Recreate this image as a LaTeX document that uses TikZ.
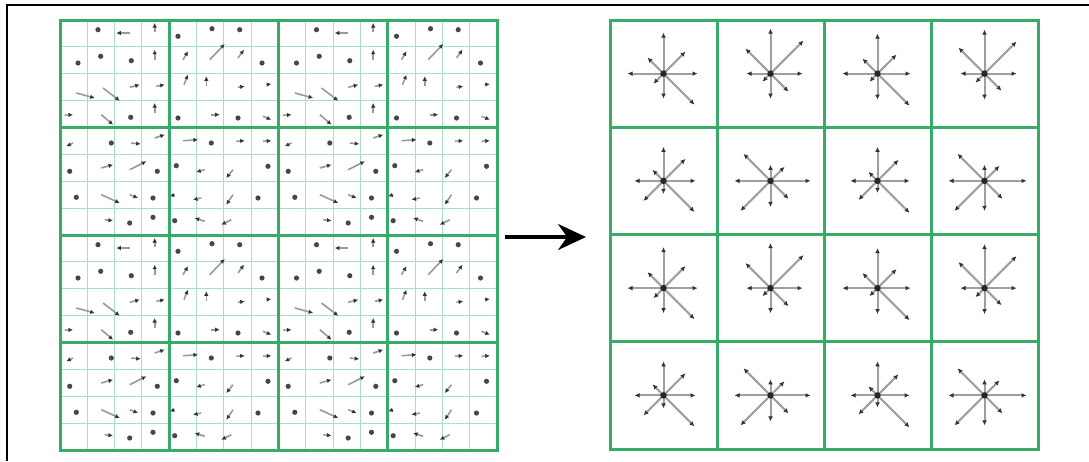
\documentclass[tikz,border=0pt]{standalone}
\usetikzlibrary{arrows.meta}
\definecolor{gridgreen}{RGB}{55,172,105}
\definecolor{finegreen}{RGB}{172,222,192}
\newcommand\ga[4]{\draw[grad] (#1,#2) -- (#3,#4);}
\newcommand\gd[2]{\fill[gdot] (#1,#2) circle (2.6);}
\newcommand\gradtile{%
\gd{38}{9.7}
\ga{69.7}{13}{56.3}{13}
\ga{94.7}{12}{94.7}{3}
\gd{18}{43}
\gd{40.7}{36.3}
\gd{71.3}{40.7}
\ga{94.7}{39.7}{94.7}{29.7}
\ga{16.3}{73}{34.7}{78}
\ga{43}{68}{59.7}{80.7}
\ga{69.7}{67.3}{79.7}{64.7}
\ga{96.3}{66.3}{104.7}{64.7}
\ga{94.7}{93}{94.7}{83}
\ga{4.7}{95.3}{13}{94.7}
\ga{41.3}{94.7}{53}{104.7}
\gd{70.7}{97.3}
\gd{118}{16.3}
\gd{152}{8.7}
\gd{179.7}{9.7}
\ga{123}{39.7}{128}{31.3}
\ga{149.7}{39.7}{164.7}{24}
\ga{178}{38}{184}{29.7}
\gd{202}{43}
\ga{124}{64.7}{128}{54.7}
\ga{146.3}{66.3}{146.3}{56.3}
\ga{178}{67.3}{184.7}{66.3}
\ga{206.3}{64.7}{211.3}{64}
\gd{118}{98}
\ga{151.3}{94.7}{159.7}{94.7}
\gd{178}{98}
\ga{203}{96.3}{211.3}{99.7}
\ga{13}{123}{6.3}{126.3}
\gd{51.3}{123}
\ga{71.3}{123}{80.7}{124}
\ga{94.7}{118}{104.7}{114.7}
\gd{9.7}{151.3}
\ga{41.3}{148}{53}{144.7}
\ga{69.7}{149.7}{86.3}{141.3}
\gd{97.3}{151.3}
\gd{16.3}{177.3}
\ga{41.3}{174.7}{59.7}{183}
\ga{69.7}{174.7}{78}{178}
\gd{93}{178}
\ga{44.7}{199.7}{53}{200.7}
\gd{69.7}{203}
\gd{93}{197.3}
\ga{123}{120.7}{138}{119.7}
\gd{151.3}{123}
\ga{176.3}{121.3}{184.7}{120.7}
\ga{203}{121.3}{211.3}{120.7}
\gd{116.3}{145.7}
\ga{144.7}{149.7}{136.3}{152}
\ga{173}{149.7}{166.3}{158}
\gd{208}{146.3}
\ga{114.7}{174.7}{109.7}{176.3}
\ga{141.3}{178}{133}{179.7}
\ga{173}{174.7}{166.3}{184.7}
\gd{198}{178}
\gd{114.7}{200.7}
\ga{144.7}{201.3}{134.7}{198}
\ga{171.3}{199.7}{161.3}{204.7}
}
% #1 centre coordinate name; #2..#9 : N, NE(dx), E, SE(dx), S, SW(dx), W, NW(dx)
\newcommand\hdesc[9]{%
\draw[hist] (#1) -- ++(0,-#2);
\draw[hist] (#1) -- ++(#3,-#3);
\draw[hist] (#1) -- ++(#4,0);
\draw[hist] (#1) -- ++(#5,#5);
\draw[hist] (#1) -- ++(0,#6);
\draw[hist] (#1) -- ++(-#7,#7);
\draw[hist] (#1) -- ++(-#8,0);
\draw[hist] (#1) -- ++(-#9,-#9);
\fill[black!85] (#1) circle (3.2);
}
\begin{document}
\begin{tikzpicture}[x=1pt,y=-1pt,
  coarse/.style={draw=gridgreen,line width=3pt},
  fine/.style={draw=finegreen,line width=1pt},
  grad/.style={draw=gray!80,line width=1.6pt,-{Latex[length=4.5pt,width=4.5pt,color=black!80]}},
  gdot/.style={fill=black!72,draw=none},
  hist/.style={draw=gray!75,line width=2pt,-{Latex[length=5pt,width=4.8pt,color=black!80]}},
  frameline/.style={draw=black,line width=2.6pt},
  bigarrow/.style={draw=black,line width=3.2pt,-{Stealth[length=28pt,width=26pt]}}
]
\useasboundingbox (0,0) rectangle (1089,461);
\fill[white] (0,0) rectangle (1089,461);
% outer frame (top and left only)
\draw[frameline] (7,461) -- (7,5) -- (1089,5);

% ---- left: gradient samples ----
\foreach \i in {1,...,15} {
  \draw[fine] ({60+\i*437/16},20) -- ({60+\i*437/16},450);
  \draw[fine] (60,{20+\i*430/16}) -- (497,{20+\i*430/16});
}
\foreach \bx/\by in {60/20, 278.5/20, 60/235, 278.5/235} {
  \begin{scope}[shift={(\bx,\by)}]
    \gradtile
  \end{scope}
}
\foreach \i in {1,2,3} {
  \draw[coarse] ({60+\i*437/4},20) -- ({60+\i*437/4},450);
  \draw[coarse] (60,{20+\i*430/4}) -- (497,{20+\i*430/4});
}
\draw[coarse] (60,20) rectangle (497,450);

% ---- middle arrow ----
\coordinate (arrowtail) at (505,237);
\coordinate (arrowtip) at (586,237);
\draw[bigarrow] (arrowtail) -- (arrowtip);

% ---- right: descriptor ----
\foreach \i in {1,2,3} {
  \draw[coarse] ({610+\i*107},20) -- ({610+\i*107},449);
  \draw[coarse] (610,{20+\i*107.25}) -- (1038,{20+\i*107.25});
}
\draw[coarse] (610,20) rectangle (1038,449);

\foreach \r in {0,1,2,3} {
  \foreach \c in {0,1,2,3} {
    \coordinate (c\r\c) at ({610+107*(\c+0.5)},{20+107.25*(\r+0.5)});
  }
}
\hdesc{c00}{41}{22}{34}{31}{25}{10}{36}{16}
\hdesc{c01}{45}{33}{32}{18}{25}{8}{24}{25}
\hdesc{c02}{40}{19}{33}{32}{26}{8}{35}{15}
\hdesc{c03}{44}{32}{32}{17}{26}{9}{24}{26}
\hdesc{c10}{34}{22}{32}{31}{13}{20}{29}{11}
\hdesc{c11}{16}{14}{40}{18}{26}{30}{36}{27}
\hdesc{c12}{34}{21}{32}{32}{12}{19}{27}{9}
\hdesc{c13}{16}{15}{42}{18}{30}{30}{36}{27}
\hdesc{c20}{41}{22}{34}{31}{25}{10}{36}{16}
\hdesc{c21}{45}{33}{32}{18}{25}{8}{24}{25}
\hdesc{c22}{40}{19}{33}{32}{26}{8}{35}{15}
\hdesc{c23}{44}{32}{32}{17}{26}{9}{24}{26}
\hdesc{c30}{34}{22}{32}{31}{13}{20}{29}{11}
\hdesc{c31}{16}{14}{40}{18}{26}{30}{36}{27}
\hdesc{c32}{34}{21}{32}{32}{12}{19}{27}{9}
\hdesc{c33}{16}{15}{42}{18}{30}{30}{36}{27}
\end{tikzpicture}
\end{document}
